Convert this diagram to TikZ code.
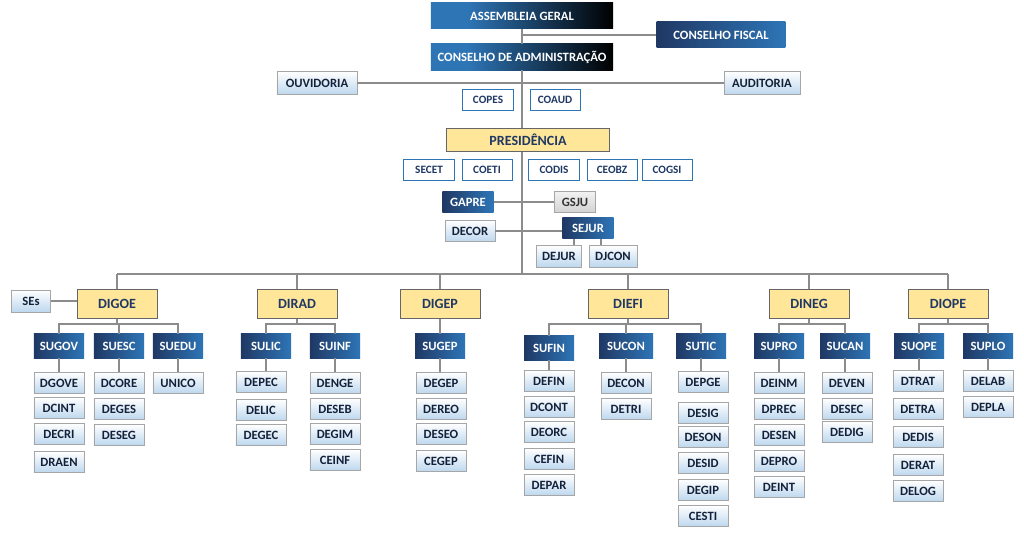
\documentclass[tikz,border=0pt]{standalone}
\usepackage{fontspec}
\setmainfont{Carlito}

\definecolor{orgBlue}{RGB}{46,117,182}
\definecolor{orgDark}{RGB}{31,56,100}
\definecolor{orgText}{RGB}{31,56,100}
\definecolor{dirYellow}{RGB}{255,230,153}
\definecolor{deptBlue}{RGB}{189,215,238}
\definecolor{lineGray}{RGB}{140,140,140}
\pgfdeclarehorizontalshading{topshade}{100bp}{color(0bp)=(orgBlue); color(35bp)=(orgBlue); color(75bp)=(black); color(100bp)=(orgDark)}

\begin{document}
\begin{tikzpicture}[x=0.025cm, y=-0.025cm,
    link/.style={draw=lineGray, line width=1.2pt},
    topbox/.style={shading=topshade, text=white, minimum width=4.55cm, minimum height=0.65cm,
        inner sep=0pt, font=\bfseries\fontsize{9}{10}\selectfont},
    supbox/.style={left color=orgDark, right color=orgBlue, text=white, minimum width=1.25cm,
        minimum height=0.6cm, inner sep=0pt, font=\bfseries\fontsize{9}{10}\selectfont},
    dirbox/.style={fill=dirYellow, draw=black!60, line width=0.6pt, text=orgText, minimum width=2cm,
        minimum height=0.72cm, inner sep=0pt, font=\bfseries\fontsize{10}{11}\selectfont},
    deptbox/.style={top color=white, bottom color=deptBlue, draw=black!35, line width=0.5pt,
        text=orgText!60!black, minimum width=1.25cm, minimum height=0.53cm, inner sep=0pt,
        font=\bfseries\fontsize{9}{10}\selectfont},
    combox/.style={fill=white, draw=orgBlue, line width=0.6pt, text=orgText, minimum width=1.28cm,
        minimum height=0.53cm, inner sep=0pt, font=\bfseries\fontsize{8}{9}\selectfont},
    greybox/.style={top color=gray!10, bottom color=gray!35, draw=black!35, line width=0.5pt,
        text=black!80, minimum width=1.03cm, minimum height=0.53cm, inner sep=0pt,
        font=\bfseries\fontsize{9}{10}\selectfont}]

    \useasboundingbox[fill=white] (0,0) rectangle (1024,537);

    % Conselhos
    \node[topbox] (ag) at (522,16) {ASSEMBLEIA GERAL};
    \node[topbox, minimum width=3.22cm, shading=axis, left color=orgDark, right color=orgBlue] (cf) at (721,35) {CONSELHO FISCAL};
    \node[topbox] (ca) at (522,57) {CONSELHO DE ADMINISTRAÇÃO};
    \node[deptbox, minimum width=2cm, minimum height=0.58cm] (ouv) at (317,83) {OUVIDORIA};
    \node[deptbox, minimum width=1.9cm, minimum height=0.58cm] (aud) at (762,83) {AUDITORIA};
    \node[combox] (copes) at (488,100) {COPES};
    \node[combox, minimum width=1.25cm] (coaud) at (555,100) {COAUD};

    % Presidencia
    \node[dirbox, minimum width=4.07cm, minimum height=0.58cm] (pres) at (528,140) {PRESIDÊNCIA};
    \node[combox] (secet) at (429,170) {SECET};
    \node[combox, minimum width=1.25cm] (coeti) at (487,170) {COETI};
    \node[combox] (codis) at (554,170) {CODIS};
    \node[combox, minimum width=1.25cm] (ceobz) at (612,170) {CEOBZ};
    \node[combox, minimum width=1.25cm] (cogsi) at (667,170) {COGSI};
    \node[supbox, minimum width=1.28cm, minimum height=0.53cm] (gapre) at (468,202) {GAPRE};
    \node[greybox] (gsju) at (575,202) {GSJU};
    \node[deptbox] (decor) at (470,231) {DECOR};
    \node[supbox, minimum width=1.28cm, minimum height=0.53cm] (sejur) at (588,228) {SEJUR};
    \node[deptbox, minimum width=1.12cm, minimum height=0.55cm] (dejur) at (559,256) {DEJUR};
    \node[deptbox, minimum width=1.2cm, minimum height=0.55cm] (djcon) at (613,256) {DJCON};

    % Spine
    \coordinate (bus) at (522,274);
    \draw[link] (ag.south) -- (ca.north);
    \draw[link] (cf.west) -- (cf.west -| ag);
    \draw[link] (ouv.east) -- (aud.west);
    \draw[link] (ca.south) -- (ca.south |- pres.north);
    \draw[link] (ca.south |- pres.south) -- (bus);
    \draw[link] (gapre.east) -- (gsju.west);
    \draw[link] (decor.east) -- (decor.east -| sejur.west);
    \draw[link] ([xshift=-0.35cm]sejur.south) -- ([xshift=-0.35cm]sejur.south |- dejur.north);
    \draw[link] ([xshift=0.33cm]sejur.south) -- ([xshift=0.33cm]sejur.south |- djcon.north);

    % Diretorias
    \node[dirbox] (digoe) at (117,304) {DIGOE};
    \node[dirbox] (dirad) at (297,304) {DIRAD};
    \node[dirbox] (digep) at (440,304) {DIGEP};
    \node[dirbox] (diefi) at (628,304) {DIEFI};
    \node[dirbox] (dineg) at (809,304) {DINEG};
    \node[dirbox] (diope) at (948,304) {DIOPE};
    \node[deptbox, minimum width=0.98cm, minimum height=0.55cm] (ses) at (31,301) {SEs};

    \draw[link] (digoe.north |- bus) -- (diope.north |- bus);
    \foreach \d in {digoe, dirad, digep, diefi, dineg, diope}
        \draw[link] (\d.north) -- (\d.north |- bus);
    \draw[link] (ses.east) -- (ses.east -| digoe.west);

    % Superintendencias
    \node[supbox] (sugov) at (59,346) {SUGOV};
    \node[supbox] (suesc) at (119,346) {SUESC};
    \node[supbox] (suedu) at (178,346) {SUEDU};
    \node[supbox] (sulic) at (266,346) {SULIC};
    \node[supbox] (suinf) at (335,346) {SUINF};
    \node[supbox] (sugep) at (440,346) {SUGEP};
    \node[supbox] (sufin) at (549,348) {SUFIN};
    \node[supbox, minimum width=1.35cm] (sucon) at (626,346) {SUCON};
    \node[supbox] (sutic) at (701,346) {SUTIC};
    \node[supbox] (supro) at (779,346) {SUPRO};
    \node[supbox] (sucan) at (845,346) {SUCAN};
    \node[supbox] (suope) at (919,346) {SUOPE};
    \node[supbox] (suplo) at (988,346) {SUPLO};

    \foreach \d/\s in {digoe/sugov, digoe/suesc, digoe/suedu, dirad/sulic, dirad/suinf,
            digep/sugep, diefi/sufin, diefi/sucon, diefi/sutic, dineg/supro, dineg/sucan,
            diope/suope, diope/suplo}
        \draw[link] (\d.south) -- ++(0,5) -| (\s.north);

    % Departamentos
    \foreach \n/\y in {DGOVE/383, DCINT/408, DECRI/434, DRAEN/462}
        \node[deptbox] (\n) at (59,\y) {\n};
    \foreach \n/\y in {DCORE/383, DEGES/409, DESEG/435}
        \node[deptbox] (\n) at (119,\y) {\n};
    \foreach \n/\y in {UNICO/383}
        \node[deptbox] (\n) at (178,\y) {\n};
    \foreach \n/\y in {DEPEC/382, DELIC/410, DEGEC/435}
        \node[deptbox] (\n) at (261,\y) {\n};
    \foreach \n/\y in {DENGE/383, DESEB/409, DEGIM/434, CEINF/460}
        \node[deptbox] (\n) at (335,\y) {\n};
    \foreach \n/\y in {DEGEP/383, DEREO/409, DESEO/434, CEGEP/461}
        \node[deptbox] (\n) at (441,\y) {\n};
    \foreach \n/\y in {DEFIN/381, DCONT/407, DEORC/432, CEFIN/459, DEPAR/485}
        \node[deptbox] (\n) at (549,\y) {\n};
    \foreach \n/\y in {DECON/383, DETRI/409}
        \node[deptbox] (\n) at (626,\y) {\n};
    \foreach \n/\y in {DEPGE/382, DESIG/413, DESON/437, DESID/463, DEGIP/490, CESTI/516}
        \node[deptbox] (\n) at (703,\y) {\n};
    \foreach \n/\y in {DEINM/383, DPREC/409, DESEN/435, DEPRO/461, DEINT/487}
        \node[deptbox] (\n) at (779,\y) {\n};
    \foreach \n/\y in {DEVEN/383, DESEC/409, DEDIG/432}
        \node[deptbox] (\n) at (847,\y) {\n};
    \foreach \n/\y in {DTRAT/381, DETRA/409, DEDIS/437, DERAT/465, DELOG/491}
        \node[deptbox] (\n) at (918,\y) {\n};
    \foreach \n/\y in {DELAB/381, DEPLA/407}
        \node[deptbox] (\n) at (988,\y) {\n};

    \foreach \s/\d in {sugov/DGOVE, suesc/DCORE, suedu/UNICO, sulic/DEPEC, suinf/DENGE,
            sugep/DEGEP, sufin/DEFIN, sucon/DECON, sutic/DEPGE, supro/DEINM, sucan/DEVEN,
            suope/DTRAT, suplo/DELAB}
        \draw[link] (\s.south) -- (\s.south |- \d.north);

\end{tikzpicture}
\end{document}
